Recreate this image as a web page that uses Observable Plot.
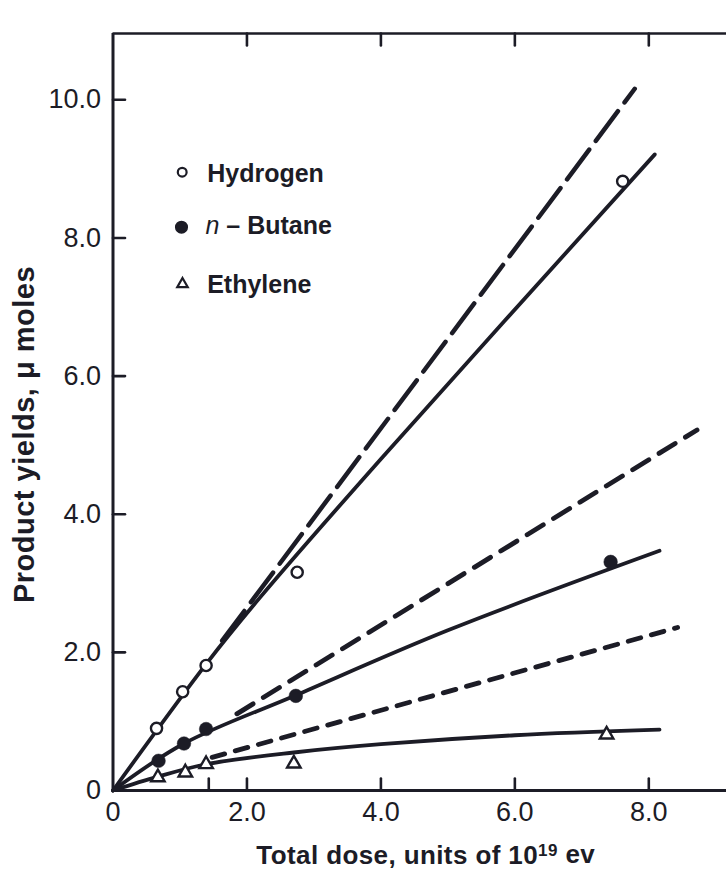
<!DOCTYPE html>
<html>
<head>
<meta charset="utf-8">
<script src="https://cdn.jsdelivr.net/npm/d3@7"></script>
<script src="https://cdn.jsdelivr.net/npm/@observablehq/plot@0.6"></script>
<style>
  html, body { margin: 0; padding: 0; background: #ffffff; }
  #chart svg { display: block; }
</style>
</head>
<body>
<div id="chart"></div>
<script>
// Measured product yields (micromoles) against total dose (units of 10^19 eV)
const hydrogenDose = [0.65, 1.04, 1.39, 2.75, 7.61];
const hydrogenYield = [0.90, 1.43, 1.81, 3.16, 8.82];
const butaneDose = [0.68, 1.06, 1.39, 2.73, 7.43];
const butaneYield = [0.43, 0.68, 0.89, 1.37, 3.31];
const ethyleneDose = [0.67, 1.08, 1.39, 2.70, 7.37];
const ethyleneYield = [0.19, 0.26, 0.38, 0.39, 0.81];

// Smooth curves drawn through each product's yields
const hydrogenCurveDose = [0, 1.39, 2.2, 4.0, 8.09];
const hydrogenCurveYield = [0, 1.83, 2.80, 4.80, 9.21];
const butaneCurveDose = [0, 1.06, 2.73, 5.0, 8.16];
const butaneCurveYield = [0, 0.68, 1.38, 2.32, 3.47];
const ethyleneCurveDose = [0, 0.67, 1.39, 2.7, 4.0, 6.0, 8.16];
const ethyleneCurveYield = [0, 0.20, 0.38, 0.55, 0.67, 0.80, 0.88];

// Dashed extrapolations of the initial (low-dose) slopes
const hydrogenInitialDose = [1.63, 7.79];
const hydrogenInitialYield = [2.17, 10.16];
const butaneInitialDose = [1.85, 8.72];
const butaneInitialYield = [1.11, 5.22];
const ethyleneInitialDose = [1.48, 8.43];
const ethyleneInitialYield = [0.48, 2.36];

// Axes
const xTicks = [0, 2, 4, 6, 8];
const xTickMarks = [1.43, 2, 4, 6, 8];
const yTicks = [0, 2, 4, 6, 8, 10];
const xMax = 9.16;
const yMax = 10.96;
const xLabel = "Total dose, units of 10¹⁹ ev";
const yLabel = "Product yields, μ moles";
const legendNames = ["Hydrogen", "n – Butane", "Ethylene"];

const ink = "#1c1c26";
const font = "Liberation Sans, Arial, sans-serif";

const pts = (xs, ys) => xs.map((x, i) => ({x, y: ys[i]}));

// A straight tick drawn inward from the frame
const tickShape = {draw(context, l) { context.moveTo(0, 0); context.lineTo(0, -l); }};
const tickOpts = {length: 12, anchor: "start", shape: tickShape, stroke: ink, strokeWidth: 2.6};

const fmt = d => d === 0 ? "0" : d.toFixed(1);
const tickText = {tickSize: 0, tickFormat: fmt, fontSize: 27, fill: ink, stroke: ink, strokeWidth: 0.7, label: null};

const plot = Plot.plot({
  width: 726,
  height: 871,
  marginLeft: 112.5,
  marginRight: 0,
  marginTop: 33,
  marginBottom: 81,
  style: {fontFamily: font, color: ink, background: "#ffffff", overflow: "visible"},
  x: {domain: [0, xMax]},
  y: {domain: [0, yMax]},
  marks: [
    // frame
    Plot.ruleY([0], {stroke: ink, strokeWidth: 3}),
    Plot.ruleY([yMax], {stroke: ink, strokeWidth: 2.6}),
    Plot.ruleX([0], {stroke: ink, strokeWidth: 3}),
    // inward ticks
    Plot.vector(xTickMarks, {x: d => d, y: 0, rotate: 0, ...tickOpts}),
    Plot.vector(xTicks.slice(1), {x: d => d, y: yMax, rotate: 180, ...tickOpts}),
    Plot.vector(yTicks.slice(1), {x: 0, y: d => d, rotate: 90, ...tickOpts}),
    // tick labels
    Plot.axisX(xTicks, {...tickText, tickPadding: 11}),
    Plot.axisY(yTicks, {...tickText, tickPadding: 12}),
    // dashed initial-slope lines
    Plot.line(pts(hydrogenInitialDose, hydrogenInitialYield), {x: "x", y: "y", stroke: ink, strokeWidth: 4.5, strokeDasharray: "37,11"}),
    Plot.line(pts(butaneInitialDose, butaneInitialYield), {x: "x", y: "y", stroke: ink, strokeWidth: 4.8, strokeDasharray: "19,12", strokeLinecap: "round"}),
    Plot.line(pts(ethyleneInitialDose, ethyleneInitialYield), {x: "x", y: "y", stroke: ink, strokeWidth: 4.8, strokeDasharray: "13,11", strokeLinecap: "round"}),
    // fitted curves
    Plot.line(pts(hydrogenCurveDose, hydrogenCurveYield), {x: "x", y: "y", stroke: ink, strokeWidth: 3.8, curve: "catmull-rom"}),
    Plot.line(pts(butaneCurveDose, butaneCurveYield), {x: "x", y: "y", stroke: ink, strokeWidth: 3.8, curve: "catmull-rom"}),
    Plot.line(pts(ethyleneCurveDose, ethyleneCurveYield), {x: "x", y: "y", stroke: ink, strokeWidth: 3.8, curve: "catmull-rom"}),
    // measured yields
    Plot.dot(pts(hydrogenDose, hydrogenYield), {x: "x", y: "y", r: 5.6, fill: "#ffffff", stroke: ink, strokeWidth: 2.4}),
    Plot.dot(pts(butaneDose, butaneYield), {x: "x", y: "y", r: 6.8, fill: ink, stroke: ink, strokeWidth: 0.5}),
    Plot.dot(pts(ethyleneDose, ethyleneYield), {x: "x", y: "y", r: 5, symbol: "triangle", fill: "#ffffff", stroke: ink, strokeWidth: 2.4}),
    // legend
    Plot.dot([legendNames[0]], {frameAnchor: "top-left", dx: 69.2, dy: 138.7, r: 4.4, fill: "#ffffff", stroke: ink, strokeWidth: 2.2}),
    Plot.dot([legendNames[1]], {frameAnchor: "top-left", dx: 68.5, dy: 193.7, r: 5.8, fill: ink, stroke: ink}),
    Plot.dot([legendNames[2]], {frameAnchor: "top-left", dx: 69.5, dy: 250.6, r: 3.9, symbol: "triangle", fill: "#ffffff", stroke: ink, strokeWidth: 2.2}),
    Plot.text([legendNames[0]], {frameAnchor: "top-left", dx: 94.2, dy: 148.7, text: d => d, textAnchor: "start", lineAnchor: "bottom", fontSize: 25, fontWeight: "bold", fill: ink}),
    Plot.text([legendNames[1]], {frameAnchor: "top-left", dx: 92.5, dy: 200.3, text: d => d, textAnchor: "start", lineAnchor: "bottom", fontSize: 25, fontWeight: "bold", fill: ink, className: "legend-butane"}),
    Plot.text([legendNames[2]], {frameAnchor: "top-left", dx: 94.2, dy: 259.7, text: d => d, textAnchor: "start", lineAnchor: "bottom", fontSize: 25, fontWeight: "bold", fill: ink}),
    // axis titles
    Plot.text([yLabel], {frameAnchor: "left", dx: -79.5, dy: 22.5, rotate: -90, text: d => d, textAnchor: "middle", lineAnchor: "bottom", fontSize: 29, fontWeight: "bold", fill: ink, className: "y-title"}),
    Plot.text([xLabel], {frameAnchor: "bottom", dx: 6, dy: 73, text: d => d, textAnchor: "middle", lineAnchor: "bottom", fontSize: 26, fontWeight: "bold", fill: ink, className: "x-title"})
  ]
});

document.getElementById("chart").appendChild(plot);

const ns = "http://www.w3.org/2000/svg";

// Italic "n" prefix in the butane legend entry
const butaneText = plot.querySelector(".legend-butane text");
if (butaneText) {
  butaneText.textContent = "";
  const a = document.createElementNS(ns, "tspan");
  a.setAttribute("font-style", "italic");
  a.setAttribute("font-weight", "normal");
  a.textContent = "n";
  const b = document.createElementNS(ns, "tspan");
  b.textContent = " – Butane";
  butaneText.append(a, b);
}

// Raised exponent in the dose title
const xTitle = plot.querySelector(".x-title text");
if (xTitle) {
  xTitle.setAttribute("letter-spacing", "0.4");
  xTitle.textContent = "";
  const a = document.createElementNS(ns, "tspan");
  a.textContent = "Total dose, units of 10";
  const b = document.createElementNS(ns, "tspan");
  b.setAttribute("dy", "-0.45em");
  b.setAttribute("font-size", "17");
  b.textContent = "19";
  const c = document.createElementNS(ns, "tspan");
  c.setAttribute("dy", "7.6");
  c.textContent = " ev";
  xTitle.append(a, b, c);
}

const yTitle = plot.querySelector(".y-title text");
if (yTitle) yTitle.setAttribute("letter-spacing", "0.5");
</script>
</body>
</html>
